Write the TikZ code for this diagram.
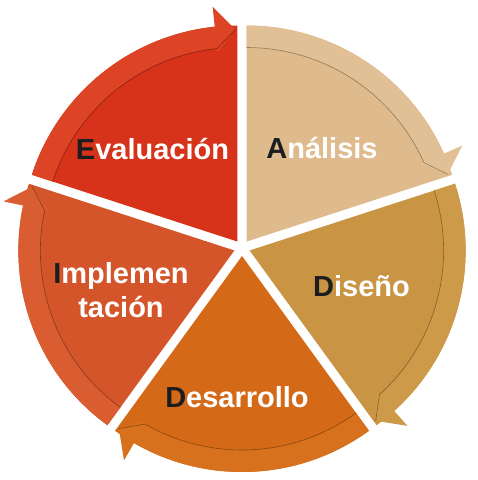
\documentclass[tikz,border=0pt]{standalone}
\usepackage{fontspec}
\setmainfont{Liberation Sans}
\usetikzlibrary{positioning}

\definecolor{evalred}{HTML}{D6331A}
\definecolor{evalband}{HTML}{DD4325}
\definecolor{analtan}{HTML}{DEBA8C}
\definecolor{analband}{HTML}{E2C096}
\definecolor{disgold}{HTML}{C99443}
\definecolor{disband}{HTML}{CD9A49}
\definecolor{desorange}{HTML}{D46A17}
\definecolor{desband}{HTML}{D8711D}
\definecolor{impred}{HTML}{D4552A}
\definecolor{impband}{HTML}{D95D31}
\definecolor{initial}{HTML}{1B1D1F}

\tikzstyle{phasetext} = [
    text=white,
    font=\fontsize{29}{34}\selectfont\bfseries,
    align=center,
    inner sep=0pt
]
\tikzstyle{bandline} = [line width=0.6pt]

% one slice of the cycle: start angle, end angle, slice colour, band colour
\newcommand{\phaseslice}[4]{%
  \pgfmathsetmacro{\phasemid}{(#1+#2)/2}
  \begin{scope}[shift={(242,232)}, shift={(\phasemid:8)}]
    \fill[#3] (0,0) -- (#1:216) arc[start angle=#1, end angle=#2, radius=216] -- cycle;
    \fill[#4] (#1:216) arc[start angle=#1, end angle={#2+6}, radius=216]
      -- ({#2+6}:194) arc[start angle={#2+6}, end angle=#1, radius=194] -- cycle;
    \fill[#4] ({#2+6}:190) -- ({#2+0.5}:212) -- ({#2+6}:236) -- cycle;
    \draw[bandline, #3!65!black] (#1:194) arc[start angle=#1, end angle={#2+6}, radius=194]
      -- ({#2+0.5}:212);
  \end{scope}
}

\begin{document}
\begin{tikzpicture}[x=1pt, y=1pt]
\useasboundingbox (0,0) rectangle (478,480);

% Slices
\phaseslice{162}{90}{evalred}{evalband}
\phaseslice{90}{18}{analtan}{analband}
\phaseslice{18}{-54}{disgold}{disband}
\phaseslice{-54}{-126}{desorange}{desband}
\phaseslice{234}{162}{impred}{impband}

% Nodes
\node (evaluacion) [phasetext, anchor=base] at (152.5,320) {\textcolor{initial}{E}valuación};
\node (analisis) [phasetext, anchor=base] at (322,321) {\textcolor{initial}{A}nálisis};
\node (diseno) [phasetext, anchor=base] at (361.5,183) {\textcolor{initial}{D}iseño};
\node (desarrollo) [phasetext, anchor=base] at (237,72) {\textcolor{initial}{D}esarrollo};
\node (implementacion) [phasetext] at (121,190) {\textcolor{initial}{I}mplemen\\tación};

\end{tikzpicture}
\end{document}
